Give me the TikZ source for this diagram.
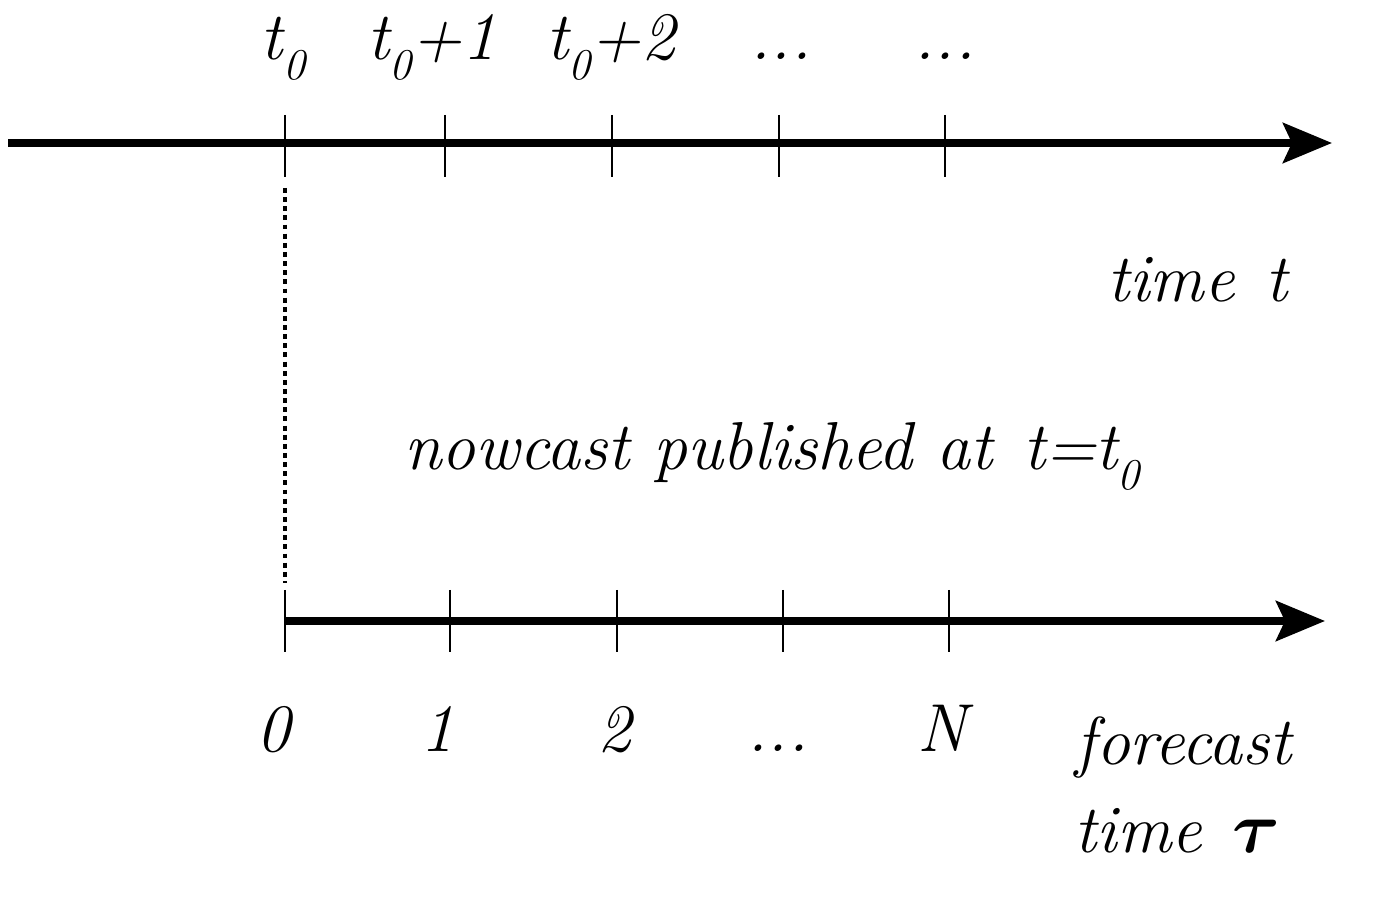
\documentclass[tikz,border=0pt]{standalone}
\usepackage{amsmath}
\usepackage{amssymb}
\usetikzlibrary{arrows.meta,calc,positioning}
\newcommand{\zsub}{\raisebox{-5.5pt}{\fontsize{12.5}{12.5}\selectfont 0}}
\newcommand{\wsp}{\hspace{0.45em}}

\tikzset{
	axisline/.style={line width=2.2pt,-{Stealth[length=4.9mm,width=4mm,inset=0.9mm]}},
	tickline/.style={line width=0.7pt},
	lbl/.style={font=\fontsize{19.3}{23}\selectfont\itshape,inner sep=0pt,anchor=base},
}

\begin{document}
\begin{tikzpicture}
			\useasboundingbox (0,0) rectangle (13.96,9);
			% time axis
			\coordinate (tstart) at (0.08,7.57);
			\coordinate (tend) at (13.32,7.57);
			\coordinate (ta) at (2.85,7.57);
			\coordinate (tb) at (4.45,7.57);
			\coordinate (tc) at (6.12,7.57);
			\coordinate (td) at (7.79,7.57);
			\coordinate (te) at (9.45,7.57);
			\draw[axisline] (tstart) to (tend);
			\draw[tickline] ($(ta)+(0,.28)$) to ($(ta)+(0,-.34)$);
			\draw[tickline] ($(tb)+(0,.28)$) to ($(tb)+(0,-.34)$);
			\draw[tickline] ($(tc)+(0,.28)$) to ($(tc)+(0,-.34)$);
			\draw[tickline] ($(td)+(0,.28)$) to ($(td)+(0,-.34)$);
			\draw[tickline] ($(te)+(0,.28)$) to ($(te)+(0,-.34)$);
			\node[lbl] (lta) at (2.83,8.40) {t\zsub};
			\node[lbl] (ltb) at (4.32,8.40) {t\zsub+1};
			\node[lbl] (ltc) at (6.11,8.40) {t\zsub+2};
			\node[lbl] (ltd) at (7.81,8.40) {...};
			\node[lbl] (lte) at (9.45,8.40) {...};
			\node[lbl,anchor=base east] (ttime) at (12.88,5.98) {time\wsp t};
			% forecast axis
			\coordinate (fstart) at (2.85,2.79);
			\coordinate (fend) at (13.25,2.79);
			\coordinate (fb) at (4.50,2.79);
			\coordinate (fc) at (6.17,2.79);
			\coordinate (fd) at (7.83,2.79);
			\coordinate (fe) at (9.49,2.79);
			\draw[axisline] (fstart) to (fend);
			\draw[tickline] ($(fstart)+(0,.31)$) to ($(fstart)+(0,-.31)$);
			\draw[tickline] ($(fb)+(0,.31)$) to ($(fb)+(0,-.31)$);
			\draw[tickline] ($(fc)+(0,.31)$) to ($(fc)+(0,-.31)$);
			\draw[tickline] ($(fd)+(0,.31)$) to ($(fd)+(0,-.31)$);
			\draw[tickline] ($(fe)+(0,.31)$) to ($(fe)+(0,-.31)$);
			\node[lbl] (lfa) at (2.73,1.48) {0};
			\node[lbl] (lfb) at (4.37,1.48) {1};
			\node[lbl] (lfc) at (6.14,1.48) {2};
			\node[lbl] (lfd) at (7.78,1.48) {...};
			\node[lbl] (lfe) at (9.42,1.48) {N};
			\node[lbl,anchor=base west] (fcast) at (10.75,1.35) {forecast};
			\node[lbl,anchor=base west] (ftime) at (10.74,0.48) {time\wsp$\boldsymbol{\tau}$};
			% link at t0
			\coordinate (dtop) at (2.85,7.12);
			\coordinate (dbot) at (2.85,3.17);
			\draw[line width=1.1pt,dash pattern=on 1.4pt off 1.2pt] (dtop) to (dbot);
			\node[lbl] (pub) at (7.72,4.30) {nowcast published at\wsp t=t\zsub};
\end{tikzpicture}
\end{document}
